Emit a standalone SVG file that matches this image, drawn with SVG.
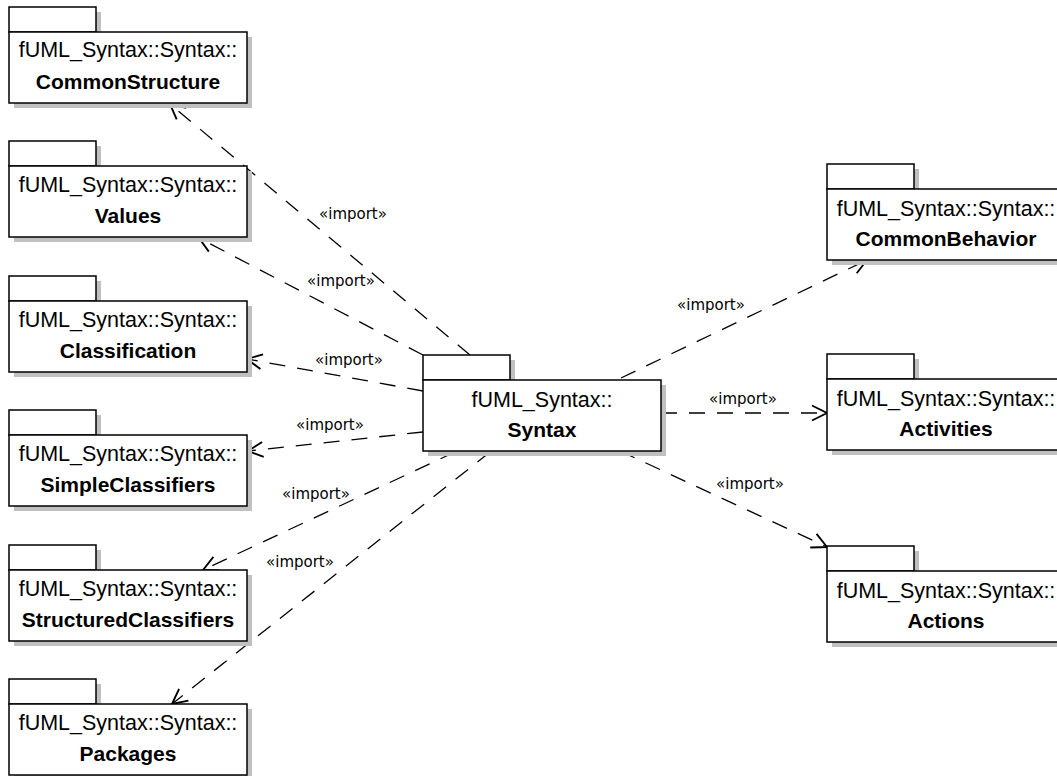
<svg xmlns="http://www.w3.org/2000/svg" width="1057" height="776" viewBox="0 0 1057 776">
<style>
.sh{fill:#c0c0c0;stroke:none}
.bx{fill:#fff;stroke:#000;stroke-width:1.5}
.t1{font-family:"Liberation Sans",Arial,sans-serif;font-size:21.5px;text-anchor:middle;fill:#000}
.t2{font-family:"Liberation Sans",Arial,sans-serif;font-size:21px;font-weight:bold;text-anchor:middle;fill:#000}
.ln{fill:none;stroke:#000;stroke-width:1.3;stroke-dasharray:16,12;marker-end:url(#arr)}
.lb{font-family:"DejaVu Sans",Verdana,sans-serif;font-size:15px;text-anchor:middle;fill:#000}
</style>
<defs>
<marker id="arr" markerUnits="userSpaceOnUse" markerWidth="20" markerHeight="20" refX="0" refY="0" viewBox="-14 -8 16 16" orient="auto">
<path d="M-12,-6 L0,0 L-12,6" fill="none" stroke="#000" stroke-width="1.5"/>
</marker>
<g id="pkg">
<rect class="sh" x="5" y="5" width="87" height="25"/>
<rect class="sh" x="5" y="30" width="238" height="71"/>
<rect class="bx" x="0" y="0" width="87" height="25"/>
<rect class="bx" x="0" y="25" width="238" height="71"/>
</g>
</defs>
<g id="connectors">
<line class="ln" x1="470" y1="355" x2="170" y2="104"/>
<line class="ln" x1="423" y1="355" x2="199" y2="238"/>
<line class="ln" x1="423" y1="391" x2="247" y2="359"/>
<line class="ln" x1="423" y1="432" x2="248" y2="451"/>
<line class="ln" x1="455" y1="452" x2="203" y2="570"/>
<line class="ln" x1="490" y1="452" x2="172" y2="704"/>
<line class="ln" x1="621" y1="378" x2="867" y2="260"/>
<line class="ln" x1="661" y1="413" x2="827" y2="413"/>
<line class="ln" x1="620" y1="451" x2="827" y2="547"/>
<text class="lb" x="353" y="219">«import»</text>
<text class="lb" x="341" y="286">«import»</text>
<text class="lb" x="349" y="365">«import»</text>
<text class="lb" x="330" y="430">«import»</text>
<text class="lb" x="316" y="499">«import»</text>
<text class="lb" x="300" y="567">«import»</text>
<text class="lb" x="711" y="310">«import»</text>
<text class="lb" x="743" y="404">«import»</text>
<text class="lb" x="750" y="489">«import»</text>
</g>
<g id="CommonStructure"><use href="#pkg" x="9" y="7"/><text class="t1" x="128" y="57">fUML_Syntax::Syntax::</text><text class="t2" x="128" y="89">CommonStructure</text></g>
<g id="Values"><use href="#pkg" x="9" y="141"/><text class="t1" x="128" y="192">fUML_Syntax::Syntax::</text><text class="t2" x="128" y="223">Values</text></g>
<g id="Classification"><use href="#pkg" x="9" y="276"/><text class="t1" x="128" y="327">fUML_Syntax::Syntax::</text><text class="t2" x="128" y="358">Classification</text></g>
<g id="SimpleClassifiers"><use href="#pkg" x="9" y="410"/><text class="t1" x="128" y="461">fUML_Syntax::Syntax::</text><text class="t2" x="128" y="492">SimpleClassifiers</text></g>
<g id="StructuredClassifiers"><use href="#pkg" x="9" y="545"/><text class="t1" x="128" y="596">fUML_Syntax::Syntax::</text><text class="t2" x="128" y="627">StructuredClassifiers</text></g>
<g id="Packages"><use href="#pkg" x="9" y="679"/><text class="t1" x="128" y="730">fUML_Syntax::Syntax::</text><text class="t2" x="128" y="761">Packages</text></g>
<g id="Syntax"><use href="#pkg" x="423" y="355"/><text class="t1" x="542" y="407">fUML_Syntax::</text><text class="t2" x="542" y="437">Syntax</text></g>
<g id="CommonBehavior"><use href="#pkg" x="827" y="164"/><text class="t1" x="946" y="216">fUML_Syntax::Syntax::</text><text class="t2" x="946" y="246">CommonBehavior</text></g>
<g id="Activities"><use href="#pkg" x="827" y="354"/><text class="t1" x="946" y="406">fUML_Syntax::Syntax::</text><text class="t2" x="946" y="436">Activities</text></g>
<g id="Actions"><use href="#pkg" x="827" y="546"/><text class="t1" x="946" y="598">fUML_Syntax::Syntax::</text><text class="t2" x="946" y="628">Actions</text></g>
</svg>
